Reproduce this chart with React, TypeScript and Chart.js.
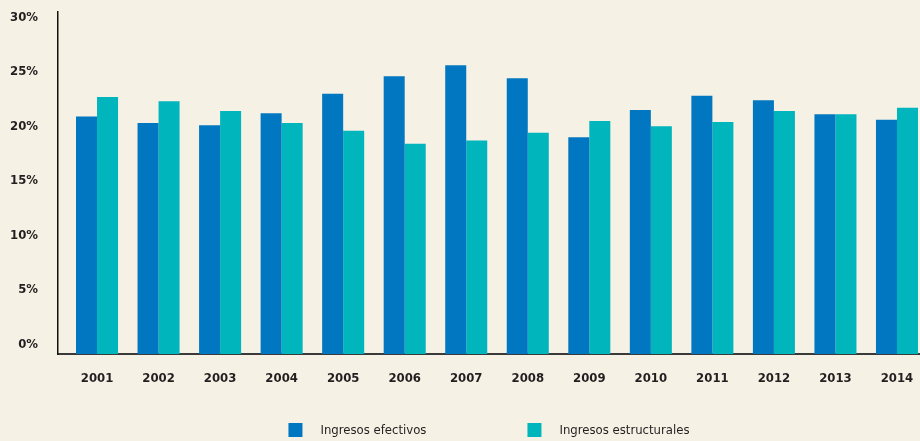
import React, { useEffect, useRef } from "react";
import { Chart, registerables } from "chart.js";

Chart.register(...registerables);

const years = [2001, 2002, 2003, 2004, 2005, 2006, 2007, 2008, 2009, 2010, 2011, 2012, 2013, 2014];
const efectivos = [20.9, 20.3, 20.1, 21.2, 23.0, 24.6, 25.6, 24.4, 19.0, 21.5, 22.8, 22.4, 21.1, 20.6];
const estructurales = [22.7, 22.3, 21.4, 20.3, 19.6, 18.4, 18.7, 19.4, 20.5, 20.0, 20.4, 21.4, 21.1, 21.7];
const yTicks = [0, 5, 10, 15, 20, 25, 30];
const seriesLabels = ["Ingresos efectivos", "Ingresos estructurales"];

const BLUE = "#0077c0";
const TEAL = "#00b5bc";
const BG = "#f5f1e4";
const TEXT = "#231f20";
const Y_MIN = -0.89;
const Y_MAX = 30.49;
const FONT = '"DejaVu Sans Condensed", "Liberation Sans Narrow", "DejaVu Sans", sans-serif';

const legendPlugin = {
  id: "customLegend",
  afterDraw(chart: any) {
    const ctx = chart.ctx;
    const area = chart.chartArea;
    ctx.save();
    ctx.font = "13px " + FONT;
    const box = 14;
    const gap = 18;
    const itemGap = 101;
    const items = chart.data.datasets.map((d: any) => ({
      label: d.label,
      color: d.backgroundColor,
      w: box + gap + ctx.measureText(d.label).width,
    }));
    const total = items.reduce((s: number, it: any) => s + it.w, 0) + itemGap * (items.length - 1);
    let x = (area.left + area.right) / 2 - total / 2;
    const cy = chart.height - 11;
    ctx.textBaseline = "middle";
    ctx.textAlign = "left";
    items.forEach((it: any) => {
      ctx.fillStyle = it.color;
      ctx.fillRect(x, cy - box / 2, box, box);
      ctx.fillStyle = TEXT;
      ctx.fillText(it.label, x + box + gap, cy + 1);
      x += it.w + itemGap;
    });
    ctx.restore();
  },
};

export default function App() {
  const ref = useRef<HTMLCanvasElement | null>(null);

  useEffect(() => {
    document.body.style.margin = "0";
    document.body.style.background = BG;
    const canvas = ref.current;
    if (!canvas) return;
    const chart = new Chart(canvas, {
      type: "bar",
      data: {
        datasets: [
          {
            label: seriesLabels[0],
            data: years.map((y, i) => ({ x: y, y: efectivos[i] })),
            backgroundColor: BLUE,
            base: Y_MIN,
            categoryPercentage: 0.683,
            barPercentage: 1,
          } as any,
          {
            label: seriesLabels[1],
            data: years.map((y, i) => ({ x: y, y: estructurales[i] })),
            backgroundColor: TEAL,
            base: Y_MIN,
            categoryPercentage: 0.683,
            barPercentage: 1,
          } as any,
        ],
      },
      options: {
        animation: false,
        responsive: false,
        maintainAspectRatio: false,
        layout: { padding: { top: 12, right: 0, left: 0, bottom: 0 } },
        plugins: {
          legend: { display: false },
          tooltip: { enabled: false },
        },
        scales: {
          x: {
            type: "linear",
            offset: false,
            min: 2001 - 39 / 61.5,
            max: 2014 + 23 / 61.5,
            grid: { display: false, drawTicks: false },
            border: { display: true, color: "#3a3a3a", width: 2 },
            afterBuildTicks: (scale: any) => {
              scale.ticks = years.map((v) => ({ value: v }));
            },
            afterFit: (scale: any) => {
              scale.height = 87;
              scale.paddingLeft = 0;
              scale.paddingRight = 0;
            },
            ticks: {
              padding: 17,
              color: TEXT,
              font: { family: FONT, size: 13, weight: "bold" },
              callback: (v: any) => String(v),
              maxRotation: 0,
              autoSkip: false,
            },
          },
          y: {
            type: "linear",
            min: Y_MIN,
            max: Y_MAX,
            grid: { display: false, drawTicks: false },
            border: { display: true, color: "#111111", width: 1.5 },
            afterBuildTicks: (scale: any) => {
              scale.ticks = yTicks.map((v) => ({ value: v }));
            },
            afterFit: (scale: any) => {
              scale.width = 58;
              scale.paddingTop = 0;
              scale.paddingBottom = 0;
            },
            ticks: {
              padding: 20,
              color: TEXT,
              font: { family: FONT, size: 13, weight: "bold" },
              callback: (v: any) => v + "%",
            },
          },
        },
      },
      plugins: [legendPlugin],
    } as any);
    return () => chart.destroy();
  }, []);

  return (
    <div style={{ width: 920, height: 441, background: BG }}>
      <canvas ref={ref} width={920} height={441} style={{ display: "block" }} />
    </div>
  );
}
